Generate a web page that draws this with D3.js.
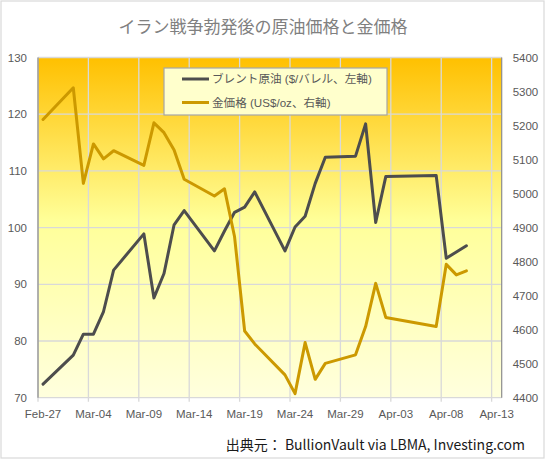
<!DOCTYPE html>
<html>
<head>
<meta charset="UTF-8">
<title>oil_gold</title>
<script src="https://cdn.jsdelivr.net/npm/d3@7"></script>
<style>
	body { margin: 0; background: #fff; }
	svg text { font-family: "Liberation Sans", "Noto Sans CJK JP", sans-serif; }
	.tick-label { font-size: 11.5px; fill: #595959; }
	.legend-label { font-size: 11.6px; fill: #595959; }
	.jp { font-family: "Noto Sans CJK JP", sans-serif !important; }
</style>
</head>
<body>
<div id="chart"></div>
<script>
	// data
	var dates = ["2026-02-27","2026-03-02","2026-03-03","2026-03-04","2026-03-05","2026-03-06",
		"2026-03-09","2026-03-10","2026-03-11","2026-03-12","2026-03-13",
		"2026-03-16","2026-03-17","2026-03-18","2026-03-19","2026-03-20",
		"2026-03-23","2026-03-24","2026-03-25","2026-03-26","2026-03-27",
		"2026-03-30","2026-03-31","2026-04-01","2026-04-02",
		"2026-04-07","2026-04-08","2026-04-09","2026-04-10"];
	var brent = [72.4, 77.5, 81.2, 81.2, 85.2, 92.5,
		98.9, 87.6, 91.9, 100.5, 103.0,
		95.9, 99.4, 102.7, 103.6, 106.3,
		95.9, 100.1, 102.0, 107.8, 112.4,
		112.6, 118.3, 100.9, 109.0,
		109.2, 94.6, 95.7, 96.8];
	var gold = [5218, 5311, 5030, 5146, 5102, 5126,
		5083, 5208, 5179, 5128, 5042,
		4993, 5014, 4873, 4596, 4558,
		4467, 4412, 4562, 4454, 4501,
		4526, 4609, 4736, 4636,
		4609, 4792, 4761, 4773];
	var xTicks = ["2026-02-27","2026-03-04","2026-03-09","2026-03-14","2026-03-19","2026-03-24",
		"2026-03-29","2026-04-03","2026-04-08","2026-04-13"];
	var leftTicks = [70, 80, 90, 100, 110, 120, 130];
	var rightTicks = [4400, 4500, 4600, 4700, 4800, 4900, 5000, 5100, 5200, 5300, 5400];

	var W = 546, H = 461;
	var L = 38, T = 57.5, R = 501.7, B = 397.7;
	var parse = d3.timeParse("%Y-%m-%d");
	var fmt = d3.timeFormat("%b-%d");
	var mid = function (d) { return d3.timeHour.offset(d, 12); };

	var rows = dates.map(function (d, i) { return { date: parse(d), oil: brent[i], gold: gold[i] }; });
	var tickDates = xTicks.map(parse);

	var x = d3.scaleTime()
		.domain([parse("2026-02-27"), parse("2026-04-14")])
		.range([L, R]);
	var yL = d3.scaleLinear().domain([70, 130]).range([B, T]);
	var yR = d3.scaleLinear().domain([4400, 5400]).range([B, T]);

	var svg = d3.select("#chart").append("svg")
		.attr("width", W).attr("height", H);

	// outer frame
	svg.append("rect")
		.attr("x", 1).attr("y", 1).attr("width", W - 3).attr("height", H - 4)
		.attr("fill", "#fff").attr("stroke", "#d9d9d9").attr("stroke-width", 1.2);

	var grad = svg.append("defs").append("linearGradient")
		.attr("id", "bg").attr("x1", 0).attr("y1", 0).attr("x2", 0).attr("y2", 1);
	grad.append("stop").attr("offset", "0%").attr("stop-color", "#ffc000");
	grad.append("stop").attr("offset", "48%").attr("stop-color", "#ffff99");
	grad.append("stop").attr("offset", "100%").attr("stop-color", "#ffffde");

	svg.append("rect")
		.attr("x", L).attr("y", T).attr("width", R - L).attr("height", B - T)
		.attr("fill", "url(#bg)");

	// gridlines
	var grid = svg.append("g").attr("stroke", "#d9d9d9").attr("stroke-width", 1.3);
	grid.selectAll("line.h").data(leftTicks).enter().append("line")
		.attr("x1", L).attr("x2", R)
		.attr("y1", function (d) { return yL(d); })
		.attr("y2", function (d) { return yL(d); });
	grid.selectAll("line.v").data(tickDates).enter().append("line")
		.attr("x1", function (d) { return x(d); }).attr("x2", function (d) { return x(d); })
		.attr("y1", T).attr("y2", B + 4);

	// axis lines
	svg.append("line").attr("x1", L).attr("x2", L).attr("y1", T).attr("y2", B)
		.attr("stroke", "#8c8c8c").attr("stroke-width", 1.2);
	svg.append("line").attr("x1", R).attr("x2", R).attr("y1", T).attr("y2", B)
		.attr("stroke", "#8c8c8c").attr("stroke-width", 1.2);

	// tick labels
	svg.selectAll("text.yl").data(leftTicks).enter().append("text")
		.attr("class", "tick-label")
		.attr("x", L - 11).attr("y", function (d) { return yL(d); })
		.attr("dy", "0.35em").attr("text-anchor", "end")
		.text(function (d) { return d; });
	svg.selectAll("text.yr").data(rightTicks).enter().append("text")
		.attr("class", "tick-label")
		.attr("x", R + 11).attr("y", function (d) { return yR(d); })
		.attr("dy", "0.35em").attr("text-anchor", "start")
		.text(function (d) { return d; });
	svg.selectAll("text.xl").data(tickDates).enter().append("text")
		.attr("class", "tick-label")
		.attr("x", function (d) { return x(mid(d)); }).attr("y", B + 16)
		.attr("dy", "0.35em").attr("text-anchor", "middle")
		.text(function (d) { return fmt(d); });

	// lines
	var oilLine = d3.line()
		.x(function (d) { return x(mid(d.date)); })
		.y(function (d) { return yL(d.oil); });
	var goldLine = d3.line()
		.x(function (d) { return x(mid(d.date)); })
		.y(function (d) { return yR(d.gold); });

	svg.append("path").datum(rows).attr("d", oilLine)
		.attr("fill", "none").attr("stroke", "#4d4d4d").attr("stroke-width", 3)
		.attr("stroke-linejoin", "round").attr("stroke-linecap", "round");
	svg.append("path").datum(rows).attr("d", goldLine)
		.attr("fill", "none").attr("stroke", "#cc9900").attr("stroke-width", 3)
		.attr("stroke-linejoin", "round").attr("stroke-linecap", "round");

	// legend
	var lg = svg.append("g");
	lg.append("rect").attr("x", 164).attr("y", 68).attr("width", 223).attr("height", 47)
		.attr("fill", "#ffffcc").attr("stroke", "#a6a6a6").attr("stroke-width", 1.2);
	var legendItems = [
		{ label: "ブレント原油 ($/バレル、左軸)", color: "#4d4d4d", y: 79 },
		{ label: "金価格 (US$/oz、右軸)", color: "#cc9900", y: 102.5 }
	];
	legendItems.forEach(function (it) {
		lg.append("line").attr("x1", 182).attr("x2", 209).attr("y1", it.y).attr("y2", it.y)
			.attr("stroke", it.color).attr("stroke-width", 3);
		lg.append("text").attr("class", "legend-label")
			.attr("x", 212).attr("y", it.y).attr("dy", "0.35em")
			.text(it.label);
	});

	// title
	svg.append("text").attr("class", "jp")
		.attr("x", 263).attr("y", 27).attr("dy", "0.35em")
		.attr("text-anchor", "middle")
		.attr("font-size", "17px").attr("fill", "#808080")
		.text("イラン戦争勃発後の原油価格と金価格");

	// source
	svg.append("text").attr("class", "jp")
		.attr("x", 525).attr("y", 445).attr("dy", "0.35em")
		.attr("text-anchor", "end")
		.attr("font-size", "14px").attr("fill", "#1a1a1a")
		.text("出典元： BullionVault via LBMA, Investing.com");
</script>
</body>
</html>
